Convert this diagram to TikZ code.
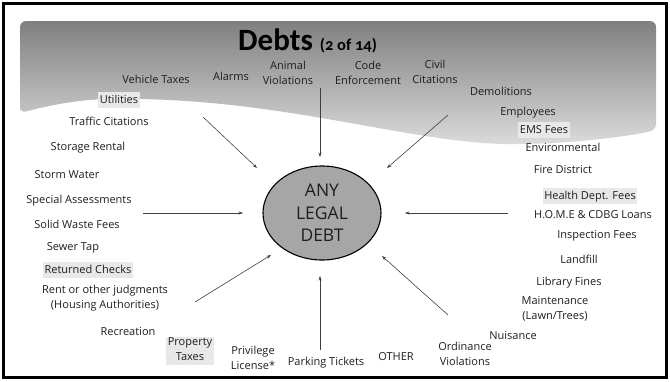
\documentclass[tikz,border=0pt]{standalone}
\usepackage{fontspec}
\setmainfont{Open Sans}
\newfontfamily\titlefont[Numbers=OldStyle]{Carlito}
\usetikzlibrary{arrows.meta,shapes.geometric}
\definecolor{hl}{HTML}{E8E8E8}
\definecolor{txt}{HTML}{1E1E1E}
\definecolor{ellfill}{HTML}{A6A6A6}
\begin{document}
\begin{tikzpicture}[x=1pt,y=-1pt,
  lab/.style={font=\fontsize{11}{15}\selectfont, text=txt, align=center, inner sep=0.5pt,
    execute at begin node=\strut, execute at end node=\strut},
  hlab/.style={lab, fill=hl, inner xsep=1.5pt},
  conn/.style={draw=black!75, line width=0.6pt, -{Stealth[length=4.5pt,width=3.2pt]}}
]
\useasboundingbox (0,0) rectangle (670,381);
% banner
\shade[top color=black!50, bottom color=black!14, rounded corners=6pt]
  (20,113) -- (20,21) -- (656,21) -- (656,130)
  .. controls (630,136) and (580,143) .. (520,144)
  .. controls (420,145) and (300,103) .. (140,99)
  .. controls (100,98) and (70,100) .. (20,113) -- cycle;
% frame
\draw[line width=2.5pt] (3.5,3.5) rectangle (666.5,377.5);
% title
\node[anchor=base west, inner sep=0pt, text=black] (title) at (238,50)
  {\titlefont\bfseries\fontsize{31}{36}\selectfont Debts \fontsize{16.5}{20}\selectfont(2 of 14)};
% center
\node[ellipse, draw=black, line width=1.1pt, fill=ellfill, minimum width=118pt, minimum height=94pt,
  font=\fontsize{17.5}{22.5}\selectfont, text=txt, align=center, inner sep=0pt] (debt) at (322,213)
  {ANY\\LEGAL\\DEBT};
% labels
\node[lab] (veh) at (156,80) {Vehicle Taxes};
\node[lab] (alarms) at (231,77) {Alarms};
\node[lab] (animal) at (288,75.5) {Animal\\Violations};
\node[lab] (code) at (368,75.5) {Code\\Enforcement};
\node[lab] (civil) at (435,74.5) {Civil\\Citations};
\node[lab] (demol) at (501,92) {Demolitions};
\node[lab] (employees) at (528,112) {Employees};
\node[hlab] (ems) at (544,130) {EMS Fees};
\node[lab] (env) at (563,148) {Environmental};
\node[lab] (fire) at (563,170) {Fire District};
\node[hlab] (health) at (590,196) {Health Dept. Fees};
\node[lab] (home) at (593,215) {H.O.M.E \& CDBG Loans};
\node[lab] (insp) at (597,235) {Inspection Fees};
\node[lab] (landfill) at (579,260) {Landfill};
\node[lab] (library) at (569,282) {Library Fines};
\node[lab] (maint) at (555,310.5) {Maintenance\\(Lawn/Trees)};
\node[lab] (nuisance) at (513,336) {Nuisance};
\node[lab] (ordinance) at (465,356.5) {Ordinance\\Violations};
\node[lab] (other) at (396,357) {OTHER};
\node[lab] (parking) at (326,362) {Parking Tickets};
\node[lab] (privilege) at (253,360) {Privilege\\License*};
\node[hlab] (property) at (190,351) {Property\\Taxes};
\node[lab] (recreation) at (128,332) {Recreation};
\node[lab] (rent) at (105,299) {Rent or other judgments\\(Housing Authorities)};
\node[hlab] (returned) at (88,270) {Returned Checks};
\node[lab] (sewer) at (73,247) {Sewer Tap};
\node[lab] (solid) at (77,225) {Solid Waste Fees};
\node[lab] (special) at (79,200) {Special Assessments};
\node[lab] (storm) at (67,175) {Storm Water};
\node[lab] (storage) at (88,147) {Storage Rental};
\node[lab] (traffic) at (109,122) {Traffic Citations};
\node[hlab] (utilities) at (119,100) {Utilities};
% arrow ends
\coordinate (s1) at (203,117); \coordinate (e1) at (257,168);
\coordinate (s2) at (320,88);  \coordinate (e2) at (320,157);
\coordinate (s3) at (448,115); \coordinate (e3) at (387,168);
\coordinate (s4) at (143,213); \coordinate (e4) at (243,213);
\coordinate (s5) at (508,213); \coordinate (e5) at (405,213);
\coordinate (s6) at (195,302); \coordinate (e6) at (271,255);
\coordinate (s7) at (320,350); \coordinate (e7) at (320,276);
\coordinate (s8) at (448,315); \coordinate (e8) at (382,256);
\foreach \i in {1,...,8} { \draw[conn] (s\i) -- (e\i); }
\end{tikzpicture}
\end{document}
